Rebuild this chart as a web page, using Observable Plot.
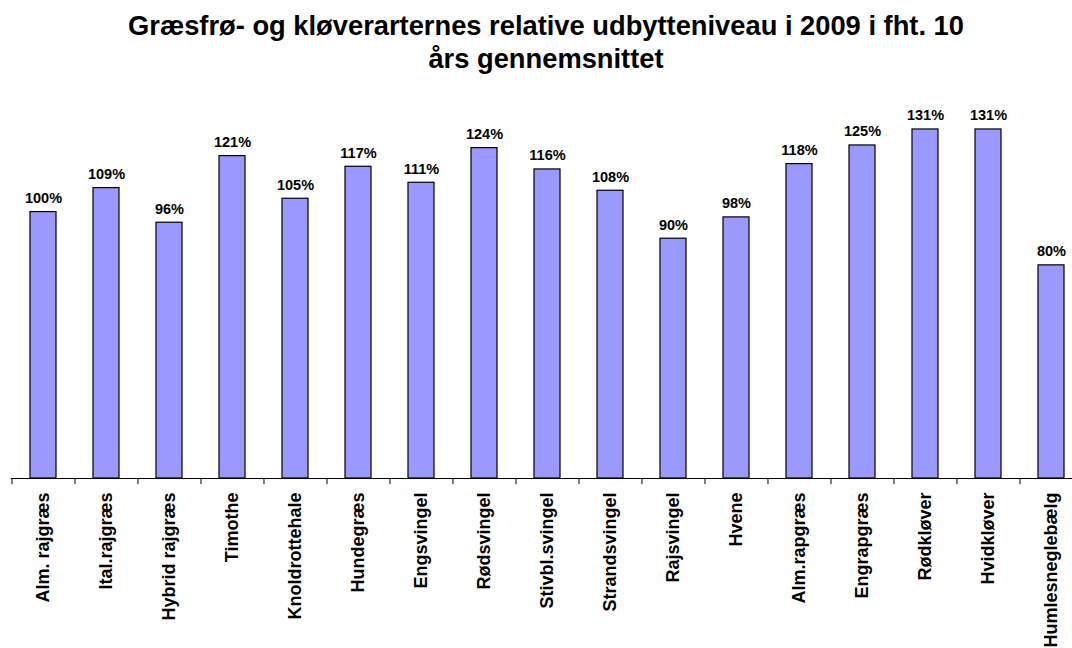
<!DOCTYPE html>
<html>
<head>
<meta charset="utf-8">
<script src="https://cdn.jsdelivr.net/npm/d3@7"></script>
<script src="https://cdn.jsdelivr.net/npm/@observablehq/plot@0.6"></script>
<style>
  html, body { margin: 0; padding: 0; background: #fff; overflow: hidden; }
  #title {
    font-family: "Liberation Sans", Arial, sans-serif;
    font-weight: bold;
    font-size: 27.3px;
    line-height: 33px;
    text-align: center;
    color: #000;
    height: 80px;
    box-sizing: border-box;
    padding-top: 9px;
    padding-left: 20px;
    white-space: nowrap;
  }
</style>
</head>
<body>
<div id="title">Græsfrø- og kløverarternes relative udbytteniveau i 2009 i fht. 10<br>års gennemsnittet</div>
<div id="chart"></div>
<script>
const categories = ["Alm. rajgræs", "Ital.rajgræs", "Hybrid rajgræs", "Timothe", "Knoldrottehale", "Hundegræs", "Engsvingel", "Rødsvingel", "Stivbl.svingel", "Strandsvingel", "Rajsvingel", "Hvene", "Alm.rapgræs", "Engrapgræs", "Rødkløver", "Hvidkløver", "Humlesneglebælg"];
const values = [100, 109, 96, 121, 105, 117, 111, 124, 116, 108, 90, 98, 118, 125, 131, 131, 80];

const data = categories.map((c, i) => ({name: c, value: values[i]}));

const width = 1072;
const height = 568;
const step = 1072 / categories.length;

const chart = Plot.plot({
  width,
  height,
  marginLeft: 11,
  marginRight: 0,
  marginTop: 25,
  marginBottom: 170,
  style: {fontFamily: '"Liberation Sans", Arial, sans-serif', background: "#fff", overflow: "hidden"},
  x: {domain: categories, range: [11, 1083], paddingInner: 0.59, paddingOuter: 0.295, label: null},
  y: {domain: [0, 140], axis: null},
  marks: [
    Plot.barY(data, {x: "name", y: "value", fill: "#9999FF", stroke: "#000", strokeWidth: 1.2}),
    Plot.text(data, {x: "name", y: "value", text: d => d.value + "%", lineAnchor: "bottom", dy: -9, fontSize: 14.5, fontWeight: "bold", fill: "#000"}),
    Plot.ruleY([0], {stroke: "#000", strokeWidth: 1.2}),
    Plot.ruleX(categories, {x: d => d, y1: 0, y2: -2.3, dx: -step / 2, stroke: "#000", strokeWidth: 1}),
    Plot.axisX({tickRotate: -90, tickSize: 0, tickPadding: 14, fontSize: 18, fontWeight: "bold", fill: "#000", label: null})
  ]
});
document.getElementById("chart").appendChild(chart);
</script>
</body>
</html>
